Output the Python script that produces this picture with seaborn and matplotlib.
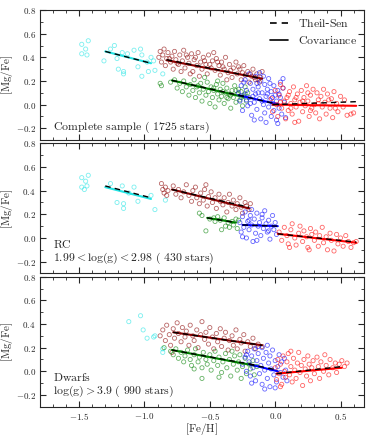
import numpy as np
import pandas as pd
import matplotlib
matplotlib.use("Agg")
import matplotlib.pyplot as plt
from matplotlib.lines import Line2D
from matplotlib.ticker import MultipleLocator, FuncFormatter
import seaborn as sns

# ---------------------------------------------------------------
# Points ([Fe/H], [Mg/Fe]) per group and panel
# ---------------------------------------------------------------
all_cyan = [(-1.48, 0.51), (-1.43, 0.54), (-1.45, 0.47), (-1.48, 0.43), (-1.44, 0.42),
            (-1.26, 0.47), (-1.23, 0.50), (-1.31, 0.37), (-1.21, 0.39), (-1.17, 0.44),
            (-1.13, 0.43), (-1.08, 0.46), (-1.03, 0.47), (-1.02, 0.42), (-1.20, 0.30),
            (-1.16, 0.28), (-1.16, 0.26), (-1.05, 0.32), (-1.02, 0.24), (-0.97, 0.28),
            (-0.98, 0.36), (-0.92, 0.29), (-0.95, 0.40), (-0.86, 0.26), (-0.93, 0.37)]
all_darkred = [(-0.89, 0.40), (-0.88, 0.45), (-0.87, 0.36), (-0.86, 0.42), (-0.85, 0.47),
               (-0.84, 0.33), (-0.83, 0.39), (-0.82, 0.44), (-0.80, 0.36), (-0.79, 0.41),
               (-0.78, 0.30), (-0.77, 0.45), (-0.76, 0.38), (-0.74, 0.34), (-0.73, 0.42),
               (-0.71, 0.37), (-0.70, 0.46), (-0.69, 0.31), (-0.67, 0.40), (-0.66, 0.35),
               (-0.64, 0.43), (-0.63, 0.28), (-0.62, 0.38), (-0.60, 0.33), (-0.59, 0.44),
               (-0.57, 0.36), (-0.56, 0.30), (-0.55, 0.40), (-0.53, 0.34), (-0.52, 0.26),
               (-0.51, 0.42), (-0.49, 0.31), (-0.48, 0.37), (-0.46, 0.29), (-0.45, 0.39),
               (-0.43, 0.33), (-0.42, 0.25), (-0.41, 0.36), (-0.39, 0.30), (-0.38, 0.40),
               (-0.36, 0.27), (-0.35, 0.34), (-0.33, 0.23), (-0.32, 0.31), (-0.30, 0.36),
               (-0.29, 0.26), (-0.27, 0.30), (-0.26, 0.21), (-0.24, 0.33), (-0.23, 0.25),
               (-0.21, 0.28), (-0.20, 0.19), (-0.18, 0.24), (-0.17, 0.30), (-0.15, 0.21),
               (-0.14, 0.26), (-0.12, 0.19), (-0.11, 0.23), (-0.10, 0.28), (-0.58, 0.24),
               (-0.47, 0.44), (-0.65, 0.26), (-0.72, 0.28), (-0.37, 0.21),
               (-0.81, 0.39), (-0.75, 0.35), (-0.68, 0.42), (-0.61, 0.40), (-0.54, 0.37),
               (-0.50, 0.34), (-0.44, 0.36), (-0.40, 0.32), (-0.34, 0.29), (-0.28, 0.32),
               (-0.25, 0.27), (-0.19, 0.26), (-0.16, 0.23), (-0.13, 0.21)]
all_green = [(-0.88, 0.18), (-0.87, 0.16), (-0.80, 0.19), (-0.77, 0.21), (-0.75, 0.14),
             (-0.73, 0.18), (-0.71, 0.11), (-0.70, 0.20), (-0.68, 0.15), (-0.66, 0.08),
             (-0.65, 0.17), (-0.63, 0.12), (-0.62, 0.21), (-0.61, 0.06), (-0.60, 0.15),
             (-0.58, 0.10), (-0.57, 0.18), (-0.56, 0.03), (-0.55, 0.13), (-0.53, 0.08),
             (-0.52, 0.19), (-0.51, 0.11), (-0.50, 0.01), (-0.49, 0.15), (-0.48, 0.06),
             (-0.47, 0.12), (-0.46, -0.02), (-0.45, 0.17), (-0.44, 0.09), (-0.43, 0.04),
             (-0.42, 0.13), (-0.41, 0.07), (-0.40, 0.18), (-0.39, 0.01), (-0.38, 0.10),
             (-0.37, 0.14), (-0.36, 0.05), (-0.35, 0.09), (-0.34, -0.03), (-0.33, 0.12),
             (-0.32, 0.06), (-0.31, 0.16), (-0.30, 0.02), (-0.29, 0.09), (-0.28, 0.13),
             (-0.27, 0.04), (-0.26, 0.11), (-0.25, -0.01), (-0.24, 0.07), (-0.23, 0.15),
             (-0.22, 0.03), (-0.21, 0.10), (-0.54, 0.23), (-0.44, 0.20),
             (-0.59, 0.16), (-0.47, 0.14), (-0.40, 0.11), (-0.34, 0.08), (-0.30, 0.12),
             (-0.26, 0.06), (-0.23, 0.09), (-0.37, 0.06)]
all_blue = [(-0.28, 0.10), (-0.27, 0.03), (-0.26, 0.16), (-0.25, -0.05), (-0.24, 0.08),
            (-0.23, 0.21), (-0.22, 0.12), (-0.21, -0.01), (-0.20, 0.06), (-0.19, 0.18),
            (-0.18, -0.09), (-0.17, 0.13), (-0.16, 0.02), (-0.15, 0.24), (-0.15, 0.09),
            (-0.14, -0.04), (-0.13, 0.15), (-0.12, 0.05), (-0.11, 0.20), (-0.11, -0.12),
            (-0.10, 0.10), (-0.09, 0.00), (-0.08, 0.17), (-0.08, -0.07), (-0.07, 0.07),
            (-0.06, 0.13), (-0.05, -0.02), (-0.05, 0.22), (-0.04, 0.04), (-0.03, -0.10),
            (-0.03, 0.11), (-0.02, 0.01), (-0.01, 0.16), (-0.01, -0.05), (0.00, 0.08),
            (0.01, -0.13), (0.01, 0.03), (0.02, 0.12), (0.03, -0.03), (0.04, 0.19),
            (0.04, 0.06), (0.05, -0.08), (0.06, 0.14), (0.07, 0.02), (0.08, -0.11),
            (-0.20, 0.26), (-0.12, 0.27), (-0.24, 0.19), (-0.16, -0.13), (-0.07, -0.15),
            (0.02, -0.16), (-0.19, 0.01), (-0.09, 0.24), (0.06, 0.22),
            (-0.22, 0.04), (-0.17, 0.07), (-0.13, 0.10), (-0.10, 0.03), (-0.06, 0.09),
            (-0.02, 0.06), (0.03, 0.09), (-0.14, 0.18), (-0.04, 0.18)]
all_red = [(-0.03, 0.05), (-0.02, -0.06), (0.00, 0.12), (0.01, 0.00), (0.02, -0.10),
           (0.03, 0.08), (0.05, -0.03), (0.06, 0.14), (0.07, 0.03), (0.08, -0.12),
           (0.09, 0.06), (0.10, -0.05), (0.11, 0.11), (0.12, 0.01), (0.13, -0.08),
           (0.14, 0.15), (0.15, 0.04), (0.16, -0.02), (0.17, 0.09), (0.18, -0.14),
           (0.19, 0.02), (0.20, 0.12), (0.21, -0.06), (0.22, 0.06), (0.23, -0.01),
           (0.24, 0.16), (0.25, 0.03), (0.26, -0.10), (0.27, 0.08), (0.28, -0.03),
           (0.29, 0.13), (0.30, 0.00), (0.31, -0.07), (0.32, 0.10), (0.33, 0.04),
           (0.34, -0.12), (0.35, 0.07), (0.36, -0.02), (0.37, 0.13), (0.38, 0.02),
           (0.39, -0.08), (0.40, 0.09), (0.42, -0.03), (0.43, 0.05), (0.44, -0.11),
           (0.45, 0.11), (0.47, 0.01), (0.48, -0.06), (0.50, 0.07), (0.52, -0.02),
           (0.53, 0.04), (0.55, -0.09), (0.58, -0.08), (0.60, -0.07), (0.04, 0.17),
           (0.15, -0.15),
           (0.04, 0.02), (0.10, 0.08), (0.16, 0.06), (0.21, 0.03), (0.27, -0.05),
           (0.33, 0.01), (0.41, 0.04), (0.46, -0.03), (0.12, -0.03), (0.25, 0.10)]

rc_cyan = [(-1.48, 0.51), (-1.43, 0.53), (-1.45, 0.48), (-1.48, 0.43), (-1.46, 0.41),
           (-1.44, 0.44), (-1.26, 0.46), (-1.17, 0.44), (-1.08, 0.43), (-1.21, 0.30),
           (-1.16, 0.29), (-1.16, 0.25), (-1.05, 0.31), (-1.12, 0.38), (-0.95, 0.36),
           (-0.92, 0.24), (-0.84, 0.32)]
rc_darkred = [(-0.87, 0.46), (-0.86, 0.41), (-0.85, 0.38), (-0.84, 0.43), (-0.83, 0.36),
              (-0.82, 0.40), (-0.78, 0.44), (-0.76, 0.37), (-0.74, 0.41), (-0.72, 0.34),
              (-0.70, 0.39), (-0.68, 0.45), (-0.66, 0.36), (-0.64, 0.31), (-0.63, 0.40),
              (-0.61, 0.43), (-0.60, 0.34), (-0.58, 0.29), (-0.57, 0.38), (-0.55, 0.32),
              (-0.54, 0.41), (-0.52, 0.27), (-0.51, 0.35), (-0.49, 0.39), (-0.48, 0.30),
              (-0.46, 0.34), (-0.45, 0.25), (-0.43, 0.37), (-0.42, 0.31), (-0.40, 0.28),
              (-0.39, 0.34), (-0.37, 0.22), (-0.36, 0.30), (-0.35, 0.37), (-0.33, 0.27),
              (-0.32, 0.32), (-0.30, 0.24), (-0.29, 0.29), (-0.27, 0.34), (-0.26, 0.26),
              (-0.25, 0.21), (-0.23, 0.30), (-0.22, 0.27), (-0.20, 0.24), (-0.19, 0.29),
              (-0.53, 0.45)]
rc_green = [(-0.58, 0.21), (-0.56, 0.19), (-0.53, 0.06), (-0.50, 0.16), (-0.47, 0.17),
            (-0.46, 0.14), (-0.44, 0.18), (-0.42, 0.15), (-0.41, 0.07), (-0.39, 0.17),
            (-0.38, 0.10), (-0.36, 0.13), (-0.35, 0.09), (-0.33, 0.14), (-0.32, 0.11),
            (-0.30, 0.16), (-0.28, 0.15), (-0.29, 0.08)]
rc_blue = [(-0.27, 0.13), (-0.26, 0.05), (-0.25, 0.18), (-0.24, 0.09), (-0.23, 0.22),
           (-0.22, 0.00), (-0.21, 0.14), (-0.20, 0.07), (-0.19, 0.19), (-0.18, 0.11),
           (-0.17, -0.03), (-0.16, 0.16), (-0.15, 0.04), (-0.14, 0.21), (-0.13, 0.10),
           (-0.12, 0.13), (-0.11, 0.02), (-0.10, 0.17), (-0.09, 0.08), (-0.08, 0.23),
           (-0.07, 0.12), (-0.06, 0.05), (-0.05, 0.15), (-0.04, -0.01), (-0.03, 0.10),
           (-0.02, 0.19), (-0.01, 0.07), (0.00, 0.13), (0.01, 0.03), (-0.18, 0.24),
           (-0.25, 0.01), (-0.10, 0.20), (-0.14, -0.02), (-0.05, 0.06), (-0.20, 0.15)]
rc_red = [(0.03, 0.05), (0.05, -0.02), (0.07, 0.09), (0.09, 0.02), (0.10, -0.05),
          (0.12, 0.07), (0.13, 0.12), (0.15, 0.00), (0.16, -0.06), (0.18, 0.04),
          (0.19, 0.10), (0.21, -0.03), (0.22, 0.06), (0.24, 0.01), (0.25, -0.08),
          (0.27, 0.08), (0.28, 0.03), (0.30, -0.02), (0.31, 0.05), (0.33, -0.07),
          (0.34, 0.02), (0.36, 0.09), (0.37, -0.04), (0.39, 0.01), (0.40, -0.10),
          (0.42, 0.04), (0.43, -0.02), (0.45, -0.11), (0.47, 0.03), (0.48, -0.05),
          (0.50, 0.00), (0.52, -0.07), (0.54, 0.02), (0.56, -0.03), (0.58, -0.08),
          (0.60, -0.04), (0.62, -0.03), (0.11, -0.08), (0.26, -0.10)]

dw_cyan = [(-1.12, 0.42), (-1.03, 0.47), (-1.01, 0.35), (-0.98, 0.28), (-0.92, 0.30),
           (-0.93, 0.29), (-0.86, 0.19), (-0.86, 0.16)]
dw_darkred = [(-0.88, 0.30), (-0.86, 0.35), (-0.84, 0.26), (-0.83, 0.39), (-0.81, 0.31),
              (-0.80, 0.22), (-0.78, 0.36), (-0.77, 0.28), (-0.75, 0.41), (-0.74, 0.32),
              (-0.72, 0.25), (-0.71, 0.37), (-0.69, 0.29), (-0.68, 0.34), (-0.66, 0.22),
              (-0.65, 0.39), (-0.63, 0.30), (-0.62, 0.26), (-0.60, 0.35), (-0.59, 0.20),
              (-0.57, 0.31), (-0.56, 0.42), (-0.54, 0.27), (-0.53, 0.33), (-0.51, 0.23),
              (-0.50, 0.37), (-0.48, 0.29), (-0.47, 0.19), (-0.45, 0.32), (-0.44, 0.25),
              (-0.42, 0.36), (-0.41, 0.21), (-0.39, 0.28), (-0.38, 0.33), (-0.36, 0.18),
              (-0.35, 0.26), (-0.33, 0.30), (-0.32, 0.22), (-0.30, 0.35), (-0.29, 0.19),
              (-0.27, 0.27), (-0.26, 0.24), (-0.24, 0.31), (-0.23, 0.17), (-0.21, 0.25),
              (-0.19, 0.21), (-0.17, 0.28), (-0.15, 0.19), (-0.13, 0.23), (-0.10, 0.21),
              (-0.79, 0.16)]
dw_green = [(-0.80, 0.17), (-0.78, 0.14), (-0.76, 0.19), (-0.74, 0.11), (-0.72, 0.16),
            (-0.70, 0.08), (-0.69, 0.13), (-0.67, 0.18), (-0.65, 0.10), (-0.64, 0.05),
            (-0.62, 0.14), (-0.61, 0.19), (-0.59, 0.08), (-0.58, 0.12), (-0.56, 0.03),
            (-0.55, 0.16), (-0.53, 0.10), (-0.52, 0.06), (-0.50, 0.14), (-0.49, 0.01),
            (-0.47, 0.09), (-0.46, 0.17), (-0.44, 0.05), (-0.43, 0.12), (-0.41, -0.01),
            (-0.40, 0.08), (-0.38, 0.15), (-0.37, 0.03), (-0.35, 0.10), (-0.34, -0.04),
            (-0.32, 0.06), (-0.31, 0.13), (-0.29, 0.01), (-0.28, 0.08), (-0.26, -0.06),
            (-0.25, 0.04), (-0.23, 0.11), (-0.22, -0.02), (-0.20, 0.06), (-0.19, 0.02),
            (-0.17, 0.09), (-0.16, -0.03), (-0.14, 0.04), (-0.56, -0.06), (-0.43, -0.05),
            (-0.85, 0.20), (-0.62, 0.02), (-0.33, 0.17), (-0.27, 0.14)]
dw_blue = [(-0.25, 0.06), (-0.23, 0.12), (-0.22, 0.00), (-0.21, 0.17), (-0.20, 0.08),
           (-0.19, -0.04), (-0.18, 0.13), (-0.17, 0.03), (-0.16, 0.19), (-0.15, -0.08),
           (-0.14, 0.09), (-0.13, 0.15), (-0.12, -0.02), (-0.11, 0.05), (-0.10, 0.20),
           (-0.10, -0.11), (-0.09, 0.11), (-0.08, 0.01), (-0.07, 0.16), (-0.06, -0.06),
           (-0.05, 0.07), (-0.04, 0.13), (-0.04, -0.13), (-0.03, 0.02), (-0.02, 0.18),
           (-0.01, -0.03), (0.00, 0.09), (0.01, -0.09), (0.02, 0.04), (0.03, 0.14),
           (0.04, -0.01), (0.05, 0.08), (0.06, -0.05), (0.07, 0.11), (0.08, 0.01),
           (-0.18, -0.10), (-0.08, -0.15), (0.00, -0.14), (-0.13, 0.21), (-0.22, 0.14),
           (-0.06, 0.22), (0.09, -0.08)]
dw_red = [(0.00, 0.03), (0.01, -0.07), (0.02, 0.10), (0.03, -0.02), (0.04, 0.06),
          (0.05, -0.11), (0.06, 0.13), (0.07, 0.00), (0.08, -0.05), (0.09, 0.08),
          (0.10, 0.15), (0.11, -0.03), (0.12, 0.04), (0.13, -0.09), (0.14, 0.11),
          (0.15, 0.01), (0.16, -0.06), (0.17, 0.07), (0.18, 0.16), (0.19, -0.01),
          (0.20, 0.05), (0.21, -0.12), (0.22, 0.10), (0.23, 0.02), (0.24, -0.04),
          (0.25, 0.13), (0.26, 0.06), (0.27, -0.08), (0.28, 0.03), (0.29, 0.09),
          (0.30, -0.02), (0.32, 0.12), (0.33, 0.04), (0.34, -0.06), (0.35, 0.08),
          (0.37, 0.00), (0.38, 0.14), (0.39, 0.05), (0.41, -0.03), (0.42, 0.10),
          (0.44, 0.03), (0.46, 0.07), (0.47, -0.01), (0.49, 0.06), (0.51, 0.09),
          (0.53, 0.04), (0.55, 0.07), (0.04, -0.13), (0.12, 0.17)]

# fit lines: group, x start, x end, covariance y0/y1, Theil-Sen y0/y1
all_fits = [("cyan", -1.30, -0.95, 0.45, 0.35, 0.45, 0.35),
            ("darkred", -0.83, -0.10, 0.375, 0.22, 0.38, 0.22),
            ("green", -0.79, -0.24, 0.205, 0.065, 0.205, 0.07),
            ("blue", -0.28, 0.03, 0.08, 0.00, 0.08, 0.00),
            ("red", -0.02, 0.62, 0.00, -0.01, 0.00, 0.025)]
rc_fits = [("cyan", -1.30, -0.95, 0.43, 0.33, 0.44, 0.34),
           ("darkred", -0.79, -0.20, 0.41, 0.25, 0.41, 0.26),
           ("green", -0.52, -0.30, 0.17, 0.13, 0.17, 0.13),
           ("blue", -0.25, 0.02, 0.11, 0.10, 0.11, 0.10),
           ("red", 0.02, 0.62, 0.035, -0.04, 0.035, -0.035)]
dw_fits = [("darkred", -0.78, -0.10, 0.33, 0.22, 0.33, 0.22),
           ("green", -0.79, -0.14, 0.18, 0.045, 0.18, 0.05),
           ("blue", -0.20, 0.02, 0.06, 0.00, 0.06, 0.01),
           ("red", 0.01, 0.51, -0.02, 0.03, -0.02, 0.04)]

panel_titles = [r"$\mathrm{Complete\ sample\ (\ 1725\ stars)}$",
                r"$\mathrm{RC}$",
                r"$\mathrm{Dwarfs}$"]
panel_subtitles = [None,
                   r"$\mathrm{1.99 < log(g) < 2.98\ (\ 430\ stars)}$",
                   r"$\mathrm{log(g) > 3.9\ (\ 990\ stars)}$"]

group_colors = {"cyan": "#22e5e5", "darkred": "darkred", "green": "green",
                "blue": "blue", "red": "red"}


def to_frame(groups):
    rows = []
    for name, pts in groups.items():
        for x, y in pts:
            rows.append({"FeH": x, "MgFe": y, "group": name})
    return pd.DataFrame(rows)


panels = [
    (to_frame({"cyan": all_cyan, "darkred": all_darkred, "green": all_green,
               "blue": all_blue, "red": all_red}), all_fits),
    (to_frame({"cyan": rc_cyan, "darkred": rc_darkred, "green": rc_green,
               "blue": rc_blue, "red": rc_red}), rc_fits),
    (to_frame({"cyan": dw_cyan, "darkred": dw_darkred, "green": dw_green,
               "blue": dw_blue, "red": dw_red}), dw_fits),
]

sns.set_style("ticks")
plt.rcParams["mathtext.fontset"] = "cm"

fig, axes = plt.subplots(3, 1, figsize=(3.73, 4.36), dpi=100, sharex=True)
fig.subplots_adjust(left=0.107, right=0.976, top=0.977, bottom=0.067, hspace=0.025)

fmt = FuncFormatter(lambda v, p: r"$%.1f$" % v)

for i, (ax, (df, fits)) in enumerate(zip(axes, panels)):
    sns.scatterplot(data=df, x="FeH", y="MgFe", hue="group", palette=group_colors,
                    s=9, linewidth=0.6, alpha=0.6, legend=False, ax=ax)
    # open circles: move the hue colours to the edges
    coll = ax.collections[-1]
    coll.set_edgecolors(coll.get_facecolors())
    coll.set_facecolors("none")

    for g, x0, x1, yc0, yc1, yt0, yt1 in fits:
        ax.plot([x0, x1], [yc0, yc1], color=group_colors[g], lw=1.5, zorder=3)
        ax.plot([x0, x1], [yt0, yt1], color="black", lw=1.0, ls=(0, (4, 3)), zorder=4)

    ax.set_xlim(-1.8, 0.68)
    ax.set_ylim(-0.3, 0.8)
    ax.set_ylabel(r"$\mathrm{[Mg/Fe]}$", fontsize=8)
    ax.yaxis.set_label_coords(-0.077, 0.5)
    ax.set_xlabel("")
    ax.xaxis.set_major_locator(MultipleLocator(0.5))
    ax.xaxis.set_minor_locator(MultipleLocator(0.1))
    ax.yaxis.set_major_locator(MultipleLocator(0.2))
    ax.yaxis.set_minor_locator(MultipleLocator(0.1))
    ax.xaxis.set_major_formatter(fmt)
    ax.yaxis.set_major_formatter(fmt)
    ax.tick_params(which="both", direction="in", top=True, right=True, labelsize=6.5,
                   pad=3)
    ax.tick_params(which="major", length=4, width=0.8)
    ax.tick_params(which="minor", length=2, width=0.6)
    for sp in ax.spines.values():
        sp.set_linewidth(0.8)

    if panel_subtitles[i] is None:
        ax.text(0.04, 0.10, panel_titles[i], transform=ax.transAxes,
                fontsize=8.5, va="center", ha="left")
    else:
        ax.text(0.04, 0.225, panel_titles[i], transform=ax.transAxes,
                fontsize=8.5, va="center", ha="left")
        ax.text(0.04, 0.115, panel_subtitles[i], transform=ax.transAxes,
                fontsize=8.5, va="center", ha="left")

axes[-1].set_xlabel(r"$\mathrm{[Fe/H]}$", fontsize=8)
axes[-1].xaxis.set_label_coords(0.5, -0.11)

handles = [Line2D([], [], color="black", lw=1.2, ls=(0, (4, 3))),
           Line2D([], [], color="black", lw=1.2)]
axes[0].legend(handles, [r"$\mathrm{Theil}$-$\mathrm{Sen}$", r"$\mathrm{Covariance}$"],
               loc="upper right", frameon=False, fontsize=8.5, handlelength=1.6,
               handletextpad=0.8, borderaxespad=0.2, labelspacing=0.35)

fig.savefig("out.png", dpi=100)
